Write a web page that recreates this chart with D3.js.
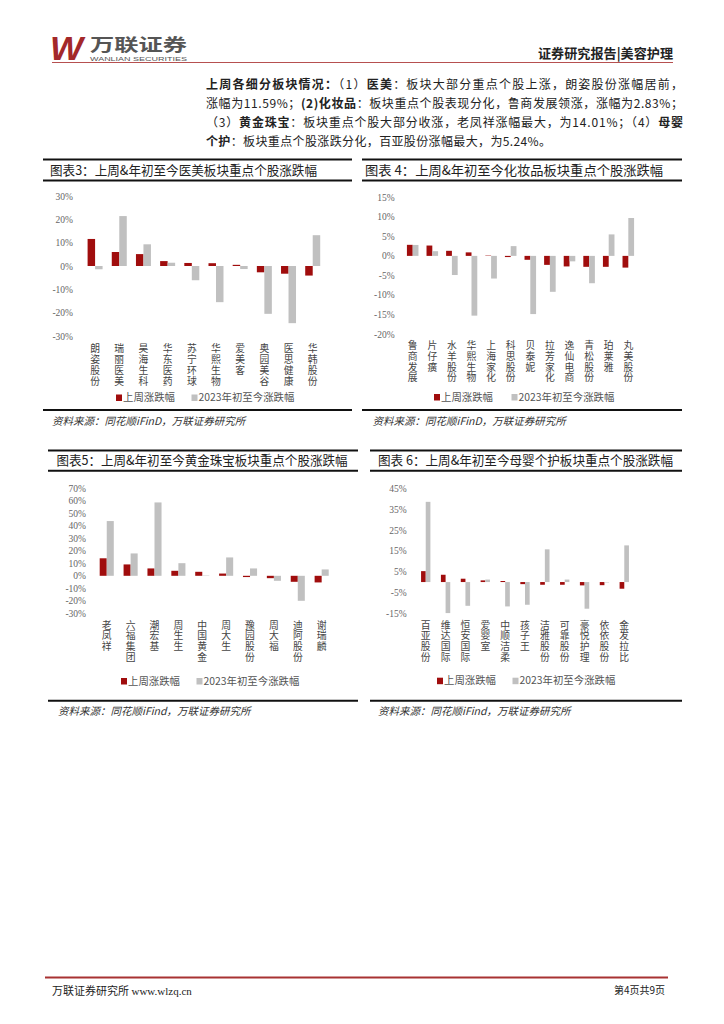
<!DOCTYPE html>
<html><head><meta charset="utf-8">
<script src="https://cdn.jsdelivr.net/npm/d3@7"></script>
<style>body{margin:0;background:#fff}svg{display:block}</style>
</head><body>
<script>
// ---------- DATA ----------
const cats3 = ["朗姿股份","瑞丽医美","昊海生科","华东医药","苏宁环球","华熙生物","爱美客","奥园美谷","医思健康","华韩股份"];
const week3 = [11.59, 6.0, 5.1, 2.1, 1.3, 1.2, 0.5, -2.7, -3.3, -4.1];
const ytd3  = [-1.4, 21.4, 9.3, 1.4, -6.1, -15.5, -1.3, -20.5, -24.5, 13.2];
const ticks3 = [30, 20, 10, 0, -10, -20, -30];

const cats4 = ["鲁商发展","片仔癀","水羊股份","华熙生物","上海家化","科思股份","贝泰妮","拉芳家化","逸仙电商","青松股份","珀莱雅","丸美股份"];
const week4 = [2.83, 2.65, 1.3, 0.9, 0.1, -0.3, -1.0, -2.3, -2.7, -2.8, -2.8, -3.0];
const ytd4  = [2.8, 1.2, -4.9, -15.3, -5.8, 2.5, -14.9, -9.2, -1.4, -7.0, 5.5, 9.7];
const ticks4 = [15, 10, 5, 0, -5, -10, -15, -20];

const cats5 = ["老凤祥","六福集团","潮宏基","周生生","中国黄金","周大生","豫园股份","周大福","迪阿股份","谢瑞麟"];
const week5 = [14.01, 9.1, 5.9, 4.0, 3.2, 1.8, -1.0, -1.9, -4.8, -5.3];
const ytd5  = [43.8, 17.9, 58.7, 10.1, 0.3, 14.7, 5.9, -4.0, -20.0, 5.1];
const ticks5 = [70, 60, 50, 40, 30, 20, 10, 0, -10, -20, -30];

const cats6 = ["百亚股份","维达国际","恒安国际","爱婴室","中顺洁柔","孩子王","洁雅股份","可靠股份","豪悦护理","依依股份","金发拉比"];
const week6 = [5.24, 3.5, 1.6, 0.8, 0.5, -1.0, -1.3, -1.3, -1.6, -1.5, -3.2];
const ytd6  = [38.5, -14.9, -11.4, 1.2, -11.7, -10.9, 15.7, 1.2, -12.8, -0.2, 17.6];
const ticks6 = [45, 35, 25, 15, 5, -5, -15];

const seriesNames = ["上周涨跌幅", "2023年初至今涨跌幅"];
const titles = [
  "图表3：上周&年初至今医美板块重点个股涨跌幅",
  "图表 4：上周&年初至今化妆品板块重点个股涨跌幅",
  "图表5：上周&年初至今黄金珠宝板块重点个股涨跌幅",
  "图表 6：上周&年初至今母婴个护板块重点个股涨跌幅"
];
const sources = [
  "资料来源：同花顺iFinD，万联证券研究所",
  "资料来源：同花顺iFinD，万联证券研究所",
  "资料来源：同花顺iFind，万联证券研究所",
  "资料来源：同花顺iFind，万联证券研究所"
];

// ---------- STYLE ----------
const RED = "#a00d0d", GRAY = "#c0c0c0";
const CJK = "'Noto Sans CJK SC', sans-serif";
const SERIF = "'Liberation Serif', 'DejaVu Serif', serif";

const svg = d3.select("body").append("svg").attr("width", 724).attr("height", 1024);
svg.append("rect").attr("width", 724).attr("height", 1024).attr("fill", "#fff");

// ---------- HEADER ----------
svg.append("text").attr("x", 50).attr("y", 60).text("W")
  .attr("font-family", "'Liberation Sans', Arial, sans-serif").attr("font-weight", "bold")
  .attr("font-style", "italic").attr("font-size", 34).attr("fill", "#a3282a")
  .attr("textLength", 33).attr("lengthAdjust", "spacingAndGlyphs");
svg.append("text").attr("x", 90).attr("y", 50.5).text("万联证券")
  .attr("font-family", CJK).attr("font-weight", "bold").attr("font-size", 17).attr("fill", "#555")
  .attr("textLength", 97).attr("lengthAdjust", "spacingAndGlyphs");
svg.append("text").attr("x", 90).attr("y", 60.5).text("WANLIAN SECURITIES")
  .attr("font-family", "'Liberation Sans', Arial, sans-serif").attr("font-size", 6).attr("fill", "#555")
  .attr("textLength", 97).attr("lengthAdjust", "spacingAndGlyphs");
svg.append("line").attr("x1", 52).attr("x2", 673).attr("y1", 62.5).attr("y2", 62.5)
  .attr("stroke", "#b65050").attr("stroke-width", 1);
svg.append("text").attr("x", 673).attr("y", 58).attr("text-anchor", "end").text("证券研究报告|美容护理")
  .attr("font-family", CJK).attr("font-weight", "bold").attr("font-size", 13).attr("fill", "#222")
  .attr("textLength", 135).attr("lengthAdjust", "spacingAndGlyphs");

// ---------- PARAGRAPH ----------
const para = [
  [[1,"上周各细分板块情况："],[0,"（1）"],[1,"医美"],[0,"：板块大部分重点个股上涨，朗姿股份涨幅居前，"]],
  [[0,"涨幅为11.59%；"],[1,"(2)化妆品"],[0,"：板块重点个股表现分化，鲁商发展领涨，涨幅为2.83%；"]],
  [[0,"（3）"],[1,"黄金珠宝"],[0,"：板块重点个股大部分收涨，老凤祥涨幅最大，为14.01%；（4）"],[1,"母婴"]],
  [[1,"个护"],[0,"：板块重点个股涨跌分化，百亚股份涨幅最大，为5.24%。"]]
];
const paraY = [89, 108, 127, 146];
const paraLen = [477, 477, 477, 345];
para.forEach((line, i) => {
  const t = svg.append("text").attr("x", 206).attr("y", paraY[i])
    .attr("font-family", CJK).attr("font-size", 12).attr("fill", "#222")
    .attr("textLength", paraLen[i]).attr("lengthAdjust", "spacing");
  line.forEach(([b, s]) => t.append("tspan").attr("font-weight", b ? "bold" : "normal").text(s));
});

// ---------- CHART FUNCTION ----------
function drawChart(o) {
  const g = svg.append("g");
  [o.lineTop, o.lineBot].forEach(y => g.append("line").attr("x1", o.px0).attr("x2", o.px1)
    .attr("y1", y).attr("y2", y).attr("stroke", "#111").attr("stroke-width", 2));
  g.append("text").attr("x", o.titleX).attr("y", (o.lineTop + o.lineBot) / 2).attr("dy", "0.36em")
    .attr("font-family", CJK).attr("font-size", 13).attr("fill", "#222")
    .attr("textLength", o.titleLen).attr("lengthAdjust", "spacingAndGlyphs").text(o.title);
  g.append("line").attr("x1", o.px0).attr("x2", o.px1).attr("y1", o.srcLine).attr("y2", o.srcLine)
    .attr("stroke", "#111").attr("stroke-width", 2);
  g.append("text").attr("x", o.srcX).attr("y", o.srcLine + 11).attr("dy", "0.36em")
    .attr("font-family", CJK).attr("font-style", "italic").attr("font-size", 10.5).attr("fill", "#333")
    .text(o.source);

  const y = d3.scaleLinear().domain(o.domain).range(o.yRange);
  const x0 = d3.scaleBand().domain(o.cats).range(o.xRange).paddingInner(o.pad).paddingOuter(o.pad / 2);
  const x1 = d3.scaleBand().domain([0, 1]).range([0, x0.bandwidth()]);

  const ax = d3.axisLeft(y).tickValues(o.ticks).tickFormat(d => d + "%").tickSize(0).tickPadding(0);
  const axg = g.append("g").attr("transform", `translate(${o.tickRight},0)`).call(ax);
  axg.select(".domain").remove();
  axg.selectAll("text").attr("font-family", SERIF).attr("font-size", 9.5).attr("fill", "#666");

  const rows = o.cats.map((c, i) => ({ c, vals: [o.week[i], o.ytd[i]] }));
  const grp = g.selectAll(".grp").data(rows).join("g")
    .attr("transform", d => `translate(${x0(d.c)},0)`);
  grp.selectAll("rect").data(d => d.vals.map((v, k) => ({ v, k }))).join("rect")
    .attr("x", d => x1(d.k)).attr("width", x1.bandwidth())
    .attr("y", d => y(Math.max(0, d.v))).attr("height", d => Math.abs(y(d.v) - y(0)))
    .attr("fill", d => d.k === 0 ? RED : GRAY);

  rows.forEach(d => {
    const cx = x0(d.c) + x0.bandwidth() / 2;
    Array.from(d.c).forEach((ch, j) => {
      g.append("text").attr("x", cx).attr("y", o.labTop + j * o.labStep).attr("dy", "0.36em")
        .attr("text-anchor", "middle").attr("font-family", CJK).attr("font-size", 9.8)
        .attr("fill", "#444").text(ch);
    });
  });

  const cols = [RED, GRAY];
  o.legX.forEach((lx, k) => {
    g.append("rect").attr("x", lx).attr("y", o.legY - 3).attr("width", 6).attr("height", 6.5).attr("fill", cols[k]);
    g.append("text").attr("x", lx + 7).attr("y", o.legY).attr("dy", "0.36em")
      .attr("font-family", CJK).attr("font-size", 10.4).attr("fill", "#555").text(seriesNames[k]);
  });
}

// ---------- LAYOUT ----------
drawChart({ cats: cats3, week: week3, ytd: ytd3, ticks: ticks3, domain: [-30, 30], yRange: [336, 196],
  xRange: [83, 324.8], pad: 0.38, tickRight: 73, labTop: 348, labStep: 11.3,
  legX: [116, 191.5], legY: 397.5, px0: 43, px1: 352, lineTop: 159.5, lineBot: 180.5, titleX: 50, titleLen: 267,
  title: titles[0], srcLine: 410, srcX: 52, source: sources[0] });

drawChart({ cats: cats4, week: week4, ytd: ytd4, ticks: ticks4, domain: [-20, 15], yRange: [334, 197.3],
  xRange: [402.9, 638.1], pad: 0.41, tickRight: 394.7, labTop: 345.7, labStep: 10.7,
  legX: [434, 511.5], legY: 397, px0: 362, px1: 682, lineTop: 159.5, lineBot: 180.5, titleX: 365, titleLen: 298,
  title: titles[1], srcLine: 410, srcX: 372.5, source: sources[1] });

drawChart({ cats: cats5, week: week5, ytd: ytd5, ticks: ticks5, domain: [-30, 70], yRange: [613.3, 488.3],
  xRange: [94.8, 333.6], pad: 0.41, tickRight: 86, labTop: 625, labStep: 10.8,
  legX: [121, 196.5], legY: 681, px0: 48, px1: 358, lineTop: 450.5, lineBot: 470.7, titleX: 56.5, titleLen: 291,
  title: titles[2], srcLine: 700.7, srcX: 58, source: sources[2] });

drawChart({ cats: cats6, week: week6, ytd: ytd6, ticks: ticks6, domain: [-15, 45], yRange: [613.3, 488.3],
  xRange: [415.8, 634.2], pad: 0.53, tickRight: 406.7, labTop: 625, labStep: 10.8,
  legX: [437, 512.5], legY: 680.7, px0: 370, px1: 682, lineTop: 450.5, lineBot: 470.7, titleX: 378, titleLen: 295,
  title: titles[3], srcLine: 700.7, srcX: 378, source: sources[3] });

// ---------- FOOTER ----------
svg.append("line").attr("x1", 45).attr("x2", 668).attr("y1", 977.5).attr("y2", 977.5)
  .attr("stroke", "#a83232").attr("stroke-width", 2);
const ft = svg.append("text").attr("x", 52).attr("y", 995).attr("font-size", 11).attr("fill", "#222");
ft.append("tspan").attr("font-family", CJK).text("万联证券研究所 ");
ft.append("tspan").attr("font-family", SERIF).text("www.wlzq.cn");
svg.append("text").attr("x", 665).attr("y", 994).attr("text-anchor", "end")
  .attr("font-family", CJK).attr("font-size", 10).attr("fill", "#222").text("第4页共9页");
</script>
</body></html>
